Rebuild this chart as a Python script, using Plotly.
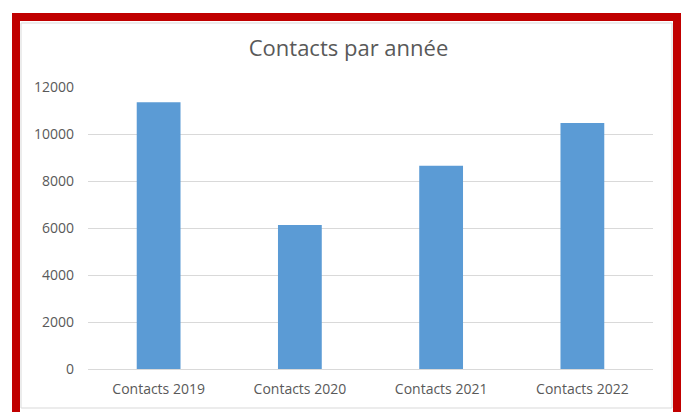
import plotly.graph_objects as go

categories = ["Contacts 2019", "Contacts 2020", "Contacts 2021", "Contacts 2022"]
values = [11350, 6130, 8650, 10470]
y_ticks = [0, 2000, 4000, 6000, 8000, 10000, 12000]
title_text = "Contacts par année"

OFF = 8  # page body margin
WIN_W, WIN_H = 689, 412
W, H = WIN_W - OFF, WIN_H - OFF
PL, PR, PT, PB = 88, 653, 87, 369  # plot area in window pixels
L, T = PL - OFF, PT - OFF
R, B = WIN_W - PR, WIN_H - PB
pw, ph = PR - PL, PB - PT

def px_x(x):
    return (x - PL) / pw

def px_y(y):
    return (PB - y) / ph

fig = go.Figure(go.Bar(x=categories, y=values, marker_color="#5B9BD5",
                       marker_line_width=0))

fig.update_layout(
    width=W, height=H,
    margin=dict(l=L, r=R, t=T, b=B),
    paper_bgcolor="white", plot_bgcolor="white",
    bargap=0.69,
    showlegend=False,
    font=dict(family="Open Sans, Liberation Sans, sans-serif", color="#595959", size=14),
    title=dict(text=title_text, x=0.5, xanchor="center", y=1 - (48 - OFF) / H, yanchor="middle",
               font=dict(size=22, color="#595959")),
    xaxis=dict(showgrid=False, showline=True, linecolor="#D9D9D9", linewidth=1,
               ticks="", tickfont=dict(size=14, color="#595959"), ticklabelstandoff=7),
    yaxis=dict(range=[0, 12000], tickvals=y_ticks, tickformat="d", showgrid=True,
               gridcolor="#D9D9D9", gridwidth=1, zeroline=False, showline=False, ticks="",
               tickfont=dict(size=14, color="#595959"), ticklabelstandoff=13),
    shapes=[
        dict(type="rect", xref="paper", yref="paper",
             x0=px_x(21), x1=px_x(672), y0=px_y(408), y1=px_y(23),
             line=dict(color="#D9D9D9", width=1), fillcolor="rgba(0,0,0,0)", layer="below"),
        dict(type="rect", xref="paper", yref="paper",
             x0=px_x(16), x1=px_x(677), y0=px_y(425), y1=px_y(17),
             line=dict(color="#C00000", width=8), fillcolor="rgba(0,0,0,0)"),
    ],
)

fig.write_html("out.html")
